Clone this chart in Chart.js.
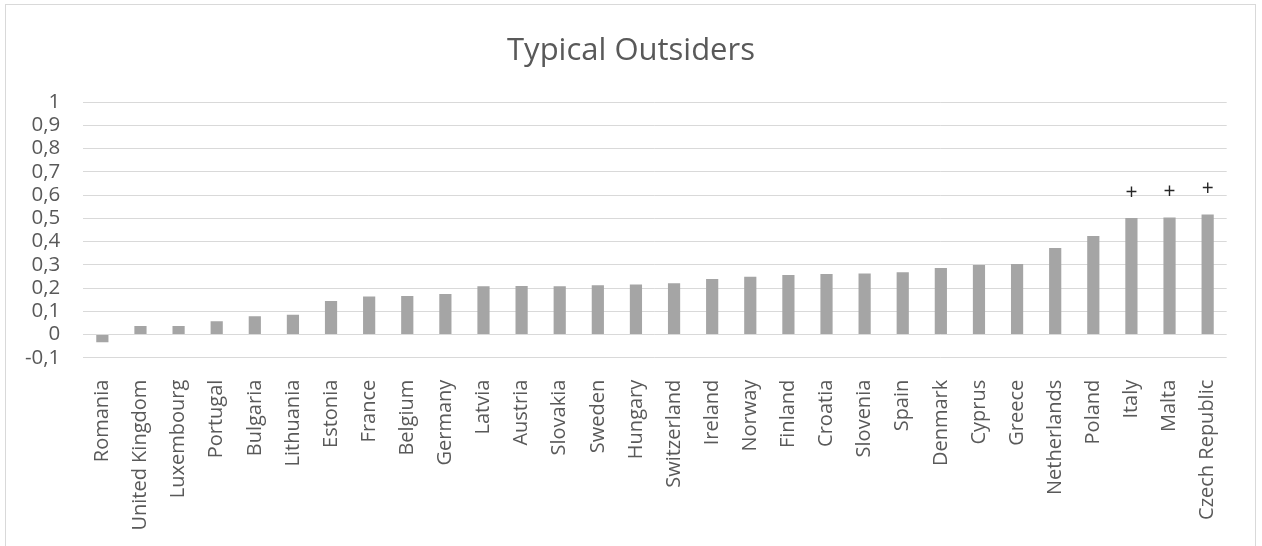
<!DOCTYPE html>
<html>
<head>
<meta charset="utf-8">
<script src="https://cdn.jsdelivr.net/npm/chart.js@4"></script>
<style>
  html, body { margin: 0; padding: 0; background: #fff; }
  #wrap { width: 1262px; height: 546px; position: relative; }
</style>
</head>
<body>
<div id="wrap"><canvas id="chart"></canvas></div>
<script>
const countries = [
  "Romania", "United Kingdom", "Luxembourg", "Portugal", "Bulgaria", "Lithuania",
  "Estonia", "France", "Belgium", "Germany", "Latvia", "Austria", "Slovakia",
  "Sweden", "Hungary", "Switzerland", "Ireland", "Norway", "Finland", "Croatia",
  "Slovenia", "Spain", "Denmark", "Cyprus", "Greece", "Netherlands", "Poland",
  "Italy", "Malta", "Czech Republic"
];
const scores = [
  -0.033, 0.037, 0.037, 0.057, 0.078, 0.085,
  0.144, 0.163, 0.166, 0.174, 0.208, 0.209, 0.208,
  0.212, 0.215, 0.221, 0.239, 0.248, 0.256, 0.260,
  0.263, 0.268, 0.286, 0.299, 0.303, 0.372, 0.424,
  0.501, 0.504, 0.517
];
const markers = [
  "", "", "", "", "", "", "", "", "", "", "", "", "", "", "",
  "", "", "", "", "", "", "", "", "", "", "", "", "+", "+", "+"
];
const yTicks = [-0.1, 0, 0.1, 0.2, 0.3, 0.4, 0.5, 0.6, 0.7, 0.8, 0.9, 1];

const FONT = "'Open Sans', sans-serif";
const TEXT = "#595959";

// white background and thin outer frame
const frame = {
  id: "frame",
  beforeDraw(chart) {
    const ctx = chart.ctx;
    ctx.save();
    ctx.fillStyle = "#ffffff";
    ctx.fillRect(0, 0, chart.width, chart.height);
    ctx.strokeStyle = "#d9d9d9";
    ctx.lineWidth = 1;
    ctx.strokeRect(5.5, 4.5, 1250, 560);
    ctx.restore();
  }
};

// "+" marks above flagged bars
const markerLabels = {
  id: "markerLabels",
  afterDatasetsDraw(chart) {
    const ctx = chart.ctx;
    const meta = chart.getDatasetMeta(0);
    ctx.save();
    ctx.font = "21px " + FONT;
    ctx.fillStyle = "#262626";
    ctx.textAlign = "center";
    ctx.textBaseline = "middle";
    meta.data.forEach((bar, i) => {
      if (markers[i]) ctx.fillText(markers[i], bar.x, bar.y - 25);
    });
    ctx.restore();
  }
};

new Chart(document.getElementById("chart"), {
  type: "bar",
  data: {
    labels: countries,
    datasets: [{
      data: scores,
      backgroundColor: "#a5a5a5",
      borderWidth: 0,
      barPercentage: 0.32,
      categoryPercentage: 1
    }]
  },
  options: {
    responsive: true,
    maintainAspectRatio: false,
    animation: false,
    layout: { padding: 0 },
    plugins: {
      legend: { display: false },
      tooltip: { enabled: false },
      title: {
        display: true,
        text: "Typical Outsiders",
        color: TEXT,
        font: { family: FONT, size: 31, weight: "normal", lineHeight: 1.2 },
        padding: { top: 33, bottom: 32 }
      }
    },
    scales: {
      x: {
        grid: { display: false },
        border: { display: false },
        ticks: {
          color: TEXT,
          font: { family: FONT, size: 20 },
          minRotation: 90,
          maxRotation: 90,
          autoSkip: false,
          padding: 14
        },
        afterFit(scale) { scale.height = 546 - 357.7; }
      },
      y: {
        min: -0.1,
        max: 1,
        afterBuildTicks(scale) { scale.ticks = yTicks.map(v => ({ value: v })); },
        grid: { color: "#d9d9d9", lineWidth: 1, drawTicks: false },
        border: { display: false },
        ticks: {
          color: TEXT,
          font: { family: FONT, size: 20.5 },
          padding: 23,
          autoSkip: false,
          callback: v => String(Math.round(v * 10) / 10).replace(".", ",")
        },
        afterFit(scale) { scale.width = 83.3; }
      },
      // empty right margin so the title stays centred on the whole canvas
      gutter: {
        position: "right",
        grid: { display: false },
        border: { display: false },
        ticks: { display: false },
        afterFit(scale) { scale.width = 35.3; }
      }
    }
  },
  plugins: [frame, markerLabels]
});
</script>
</body>
</html>
